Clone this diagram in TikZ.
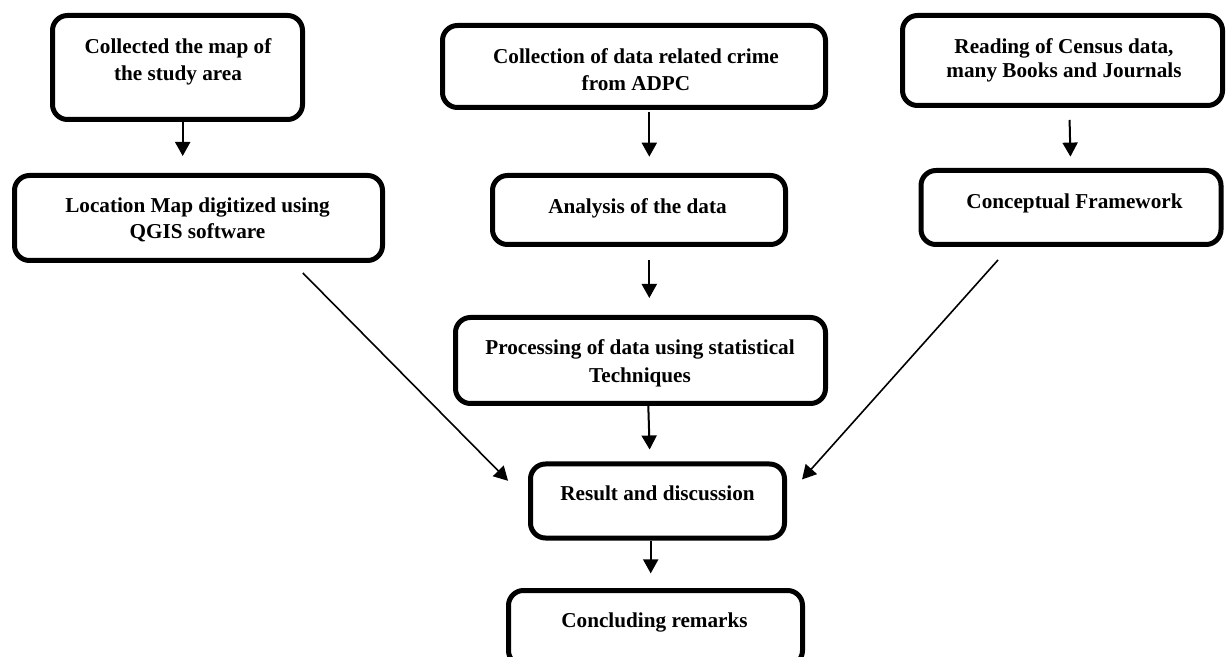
\documentclass[tikz,border=0pt]{standalone}
\usepackage{fontspec}
\setmainfont{Liberation Serif}
\usetikzlibrary{arrows.meta}
\tikzset{
	box/.style={draw, line width=2.5pt, rounded corners=7.5pt},
	lbl/.style={anchor=north, inner sep=0pt, align=center, font=\fontsize{10.6}{13}\selectfont\bfseries},
	arr/.style={line width=1pt, -{Triangle[width=7.5pt,length=7pt]}},
	diag/.style={line width=0.8pt, -{Triangle[width=7.5pt,length=7pt]}}
}
\begin{document}
\begin{tikzpicture}[x=0.5pt, y=-0.5pt]
	\useasboundingbox (0,0) rectangle (1226,657);
	
	% left column
	\node[box, minimum width=125pt, minimum height=52pt] (colmap) at (177.5,67.5) {};
	\node[lbl, font=\fontsize{10.6}{13.5}\selectfont\bfseries] (colmaptxt) at (178,38) {Collected the map of\\the study area};
	\node[box, minimum width=184pt, minimum height=42.5pt] (locmap) at (198.5,218) {};
	\node[lbl] (locmaptxt) at (197.5,197.5) {Location Map digitized using\\QGIS software};
	
	% middle column
	\node[box, minimum width=191.5pt, minimum height=41pt] (crime) at (634,66.5) {};
	\node[lbl, font=\fontsize{10.6}{13.3}\selectfont\bfseries] (crimetxt) at (636,48.5) {Collection of data related crime\\from ADPC};
	\node[box, minimum width=146.5pt, minimum height=34.5pt] (analysis) at (639,210) {};
	\node[lbl] (analysistxt) at (637.5,198.5) {Analysis of the data};
	\node[box, minimum width=185pt, minimum height=43pt] (process) at (640.5,360.5) {};
	\node[lbl, font=\fontsize{10.6}{13.7}\selectfont\bfseries] (processtxt) at (640,339.5) {Processing of data using statistical\\Techniques};
	\node[box, minimum width=127pt, minimum height=37pt] (result) at (657.5,501) {};
	\node[lbl] (resulttxt) at (657.5,485.5) {Result and discussion};
	\node[box, minimum width=147pt, minimum height=37.5pt] (conclude) at (655.5,628) {};
	\node[lbl] (concludetxt) at (654.5,612.5) {Concluding remarks};
	
	% right column
	\node[box, minimum width=160pt, minimum height=45pt] (census) at (1062.5,60.5) {};
	\node[lbl, font=\fontsize{10.6}{12}\selectfont\bfseries] (censustxt) at (1064,38) {Reading of Census data,\\many Books and Journals};
	\node[box, minimum width=150pt, minimum height=37pt] (concept) at (1071,207.5) {};
	\node[lbl] (concepttxt) at (1074.5,193.5) {Conceptual Framework};
	
	% arrows
	\draw[arr, shorten >=8.5pt] ([xshift=2.6pt]colmap.south) -- ([xshift=-7.9pt]locmap.north);
	\draw[arr, shorten <=0.8pt, shorten >=8.15pt] ([xshift=7.65pt]crime.south) -- ([xshift=5.15pt]analysis.north);
	\draw[arr, shorten <=6.5pt, shorten >=8.5pt] ([xshift=5.15pt]analysis.south) -- ([xshift=4.4pt]process.north);
	\draw[arr, shorten >=6pt] ([xshift=3.9pt]process.south) -- ([xshift=-3.75pt]result.north);
	\draw[arr, shorten >=7.3pt] ([xshift=-3.4pt]result.south) -- ([xshift=-2.4pt]conclude.north);
	\draw[arr, shorten <=6pt, shorten >=5.7pt] ([xshift=3.4pt]census.south) -- ([xshift=-0.15pt]concept.north);
	\draw[diag, shorten <=7pt, shorten >=14.2pt] ([xshift=47.25pt]locmap.south) -- (result.west);
	\draw[diag, shorten <=8.7pt, shorten >=11.3pt] ([xshift=-30.7pt]concept.south) -- ([yshift=2.35pt]result.east);
\end{tikzpicture}
\end{document}
